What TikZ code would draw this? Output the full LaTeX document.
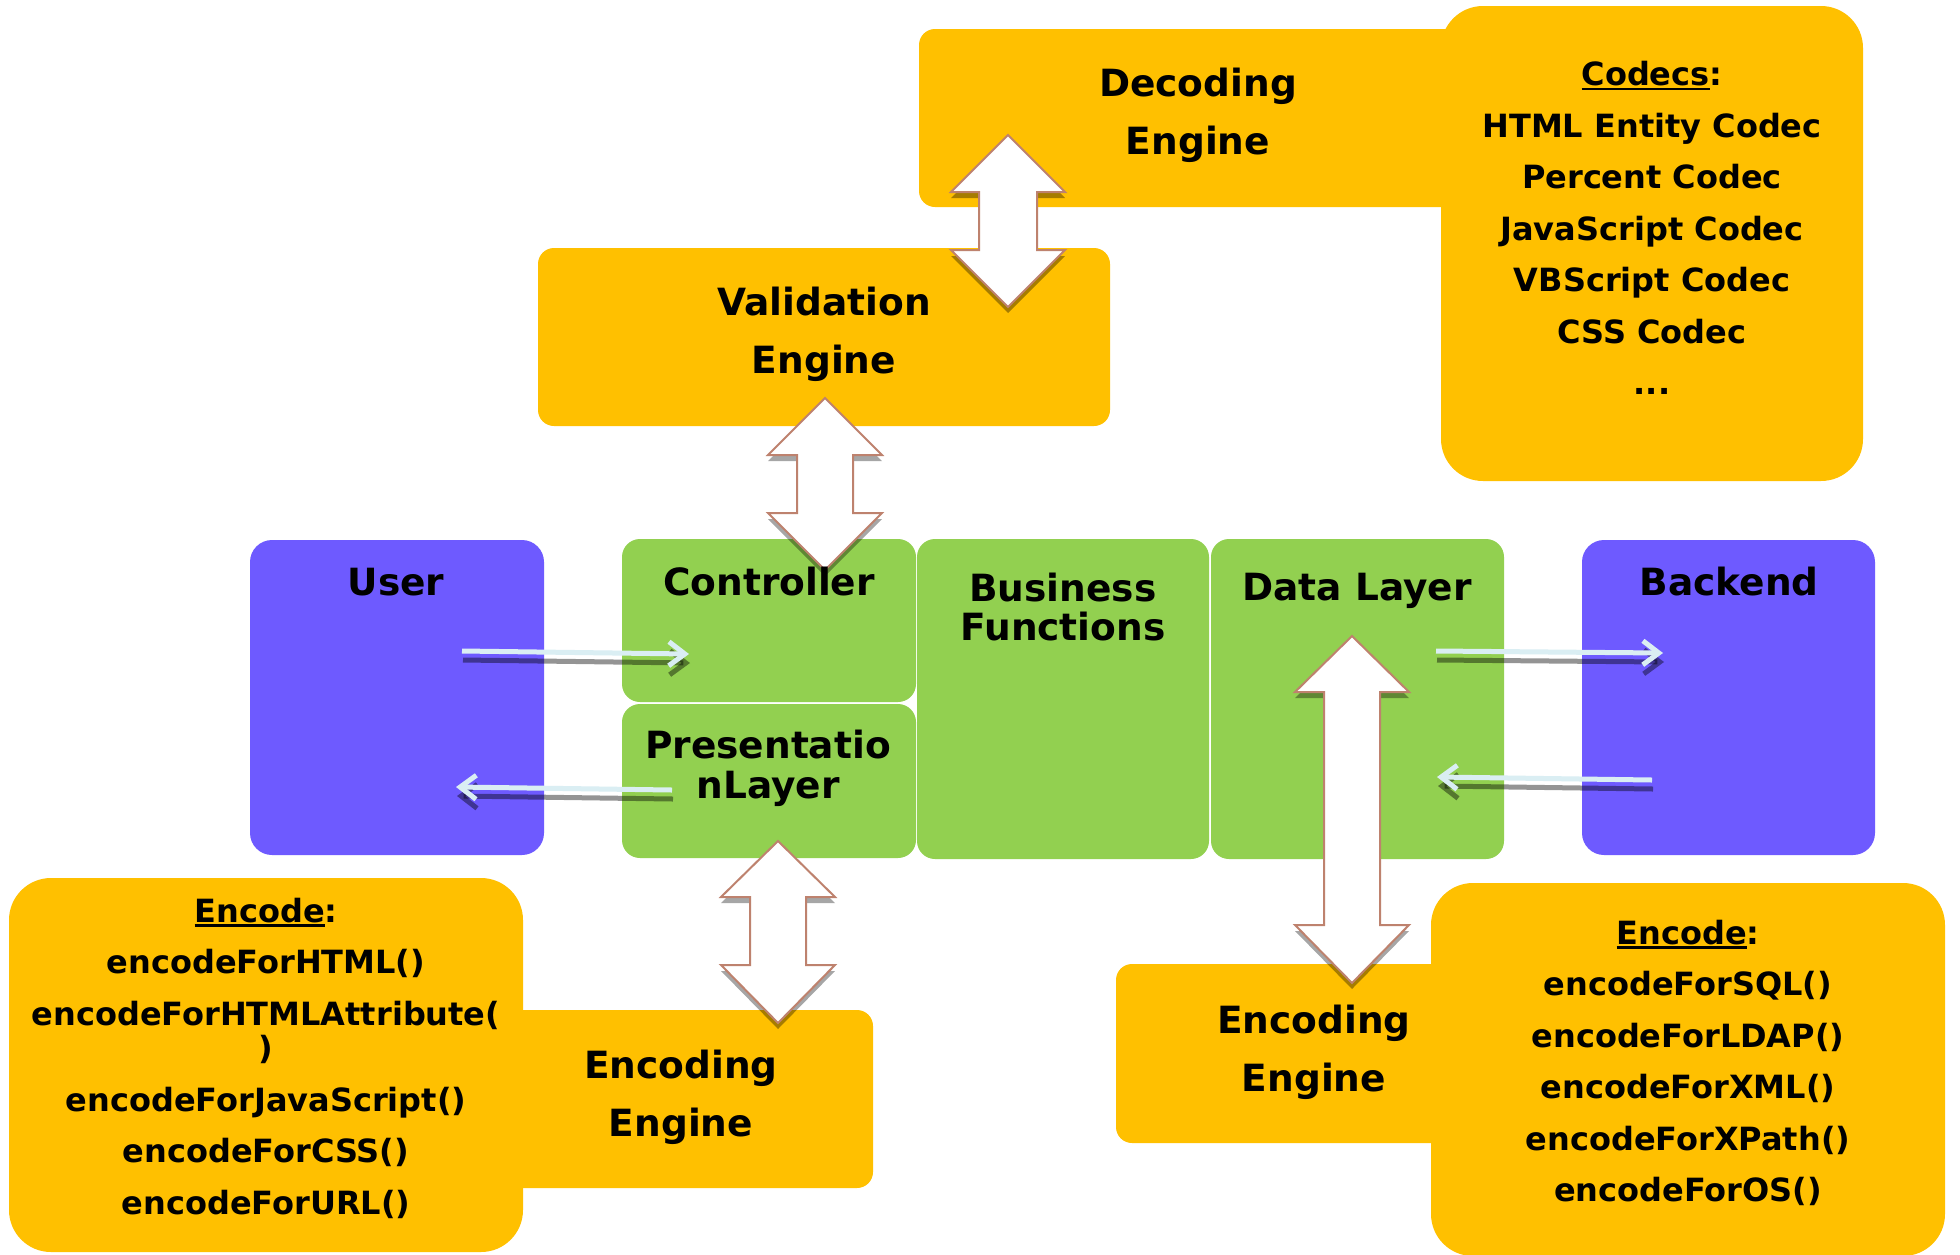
\documentclass[tikz,border=0pt]{standalone}
\usepackage{fontspec}
\setmainfont{DejaVu Sans}
\usetikzlibrary{arrows.meta}

\definecolor{amber}{HTML}{FFC000}
\definecolor{leaf}{HTML}{92D050}
\definecolor{tierblue}{HTML}{6E5AFF}
\definecolor{frost}{HTML}{DAEEF3}
\definecolor{rim}{RGB}{190,130,110}

% underlined heading word
\newcommand\ulword[1]{\leavevmode\vtop{\hbox{#1}\kern1.5pt\hrule height 2.5pt}}

% vertical two-headed block arrow: cx, top, end of upper head, start of lower head, bottom, head half-width, shaft half-width
\newcommand\twowayarrow[7]{%
  \fill[arrowshade] (#1,#2) -- ({#1+#6},#3) -- ({#1+#7},#3) -- ({#1+#7},#4) -- ({#1+#6},#4) -- (#1,#5)
    -- ({#1-#6},#4) -- ({#1-#7},#4) -- ({#1-#7},#3) -- ({#1-#6},#3) -- cycle;
  \filldraw[arrowbody] (#1,#2) -- ({#1+#6},#3) -- ({#1+#7},#3) -- ({#1+#7},#4) -- ({#1+#6},#4) -- (#1,#5)
    -- ({#1-#6},#4) -- ({#1-#7},#4) -- ({#1-#7},#3) -- ({#1-#6},#3) -- cycle;}

\tikzset{
  box/.style={anchor=north west, inner sep=0pt, outer sep=0pt},
  ybox/.style={box, fill=amber, rounded corners=16pt},
  ybig/.style={box, fill=amber, rounded corners=42pt},
  gbox/.style={box, fill=leaf, rounded corners=18pt},
  pbox/.style={box, fill=tierblue, rounded corners=22pt},
  title/.style={font=\fontsize{37.5}{58}\selectfont\bfseries, align=center, inner sep=0pt},
  listing/.style={font=\fontsize{32}{51.5}\selectfont\bfseries, align=center, inner sep=0pt},
  arrowshade/.style={fill=black, fill opacity=0.35, shift={(0,6)}},
  arrowbody/.style={fill=white, draw=rim, line width=2pt, line join=miter},
  flow/.style={draw=frost, line width=5pt, -{Straight Barb[length=16pt,width=24pt]}},
  flowshade/.style={draw=black, draw opacity=0.42, line width=5pt,
    -{Straight Barb[length=16pt,width=24pt]}, transform canvas={xshift=1pt, yshift=-9pt}},
}

\begin{document}
\begin{tikzpicture}[x=1pt, y=-1pt]
\useasboundingbox[fill=white] (0,0) rectangle (1960,1254);

% engines and codec list at the top
\node[ybox, minimum width=551pt, minimum height=178pt] (dec) at (919,29) {};
\node[ybig, minimum width=422pt, minimum height=475pt] (codecs) at (1441,6) {};
\node[ybox, minimum width=572pt, minimum height=178pt] (val) at (538,248) {};

% application tiers
\node[pbox, minimum width=294pt, minimum height=315pt] (user) at (250,540) {};
\node[gbox, minimum width=294pt, minimum height=163pt] (ctrl) at (622,539) {};
\node[gbox, minimum width=294pt, minimum height=154pt] (pres) at (622,704) {};
\node[gbox, minimum width=292pt, minimum height=320pt] (biz) at (917,539) {};
\node[gbox, minimum width=293pt, minimum height=320pt] (data) at (1211,539) {};
\node[pbox, minimum width=293pt, minimum height=315pt] (back) at (1582,540) {};

% encoding engines with their encoder lists
\node[ybox, minimum width=373pt, minimum height=178pt] (lengine) at (500,1010) {};
\node[ybig, minimum width=514pt, minimum height=374pt] (lencode) at (9,878) {};
\node[ybox, minimum width=334pt, minimum height=179pt] (rengine) at (1116,964) {};
\node[ybig, minimum width=514pt, minimum height=373pt] (rencode) at (1431,883) {};

% two-way block arrows between engines and tiers
\twowayarrow{1008}{135}{192}{250}{307}{57}{29}
\twowayarrow{825}{398}{455}{513}{570}{57}{28}
\twowayarrow{778}{841}{897}{965}{1023}{57}{28}
\twowayarrow{1352}{636}{692}{925}{983}{57}{28}

% request / response flows
\coordinate (u1) at (462,651);  \coordinate (c1) at (689,654);
\coordinate (p1) at (672,790);  \coordinate (u2) at (456,787);
\coordinate (d1) at (1436,651); \coordinate (b1) at (1663,653);
\coordinate (b2) at (1652,780); \coordinate (d2) at (1437,777);
\foreach \s/\t in {u1/c1, p1/u2, d1/b1, b2/d2} {
  \draw[flowshade] (\s) -- (\t);
  \draw[flow] (\s) -- (\t);
}

% labels
\node[title] (dect) at (1198,115) {Decoding\\Engine};
\node[title] (valt) at (824,334) {Validation\\Engine};
\node[title, anchor=base] (usert) at (396,595) {User};
\node[title, anchor=base] (ctrlt) at (769,595) {Controller};
\node[title, font=\fontsize{37.5}{39}\selectfont\bfseries] (bizt) at (1063,607) {Business\\Functions};
\node[title, anchor=base] (datat) at (1357,600) {Data Layer};
\node[title, anchor=base] (backt) at (1729,595) {Backend};
\node[title, font=\fontsize{37.5}{40}\selectfont\bfseries] (prest) at (768,768) {Presentatio\\nLayer};
\node[title] (lenct) at (681,1097) {Encoding\\Engine};
\node[title] (renct) at (1314,1052) {Encoding\\Engine};

\node[listing] (codecst) at (1652,228) {\ulword{Codecs}:\\HTML Entity Codec\\Percent Codec\\JavaScript Codec\\VBScript Codec\\CSS Codec\\...};
\node[listing] (lencl) at (266,1058) {\ulword{Encode}:\\encodeForHTML()\\encodeForHTMLAttribute(\\[-17pt])\\encodeForJavaScript()\\encodeForCSS()\\encodeForURL()};
\node[listing] (rencl) at (1688,1063) {\ulword{Encode}:\\encodeForSQL()\\encodeForLDAP()\\encodeForXML()\\encodeForXPath()\\encodeForOS()};
\end{tikzpicture}
\end{document}
